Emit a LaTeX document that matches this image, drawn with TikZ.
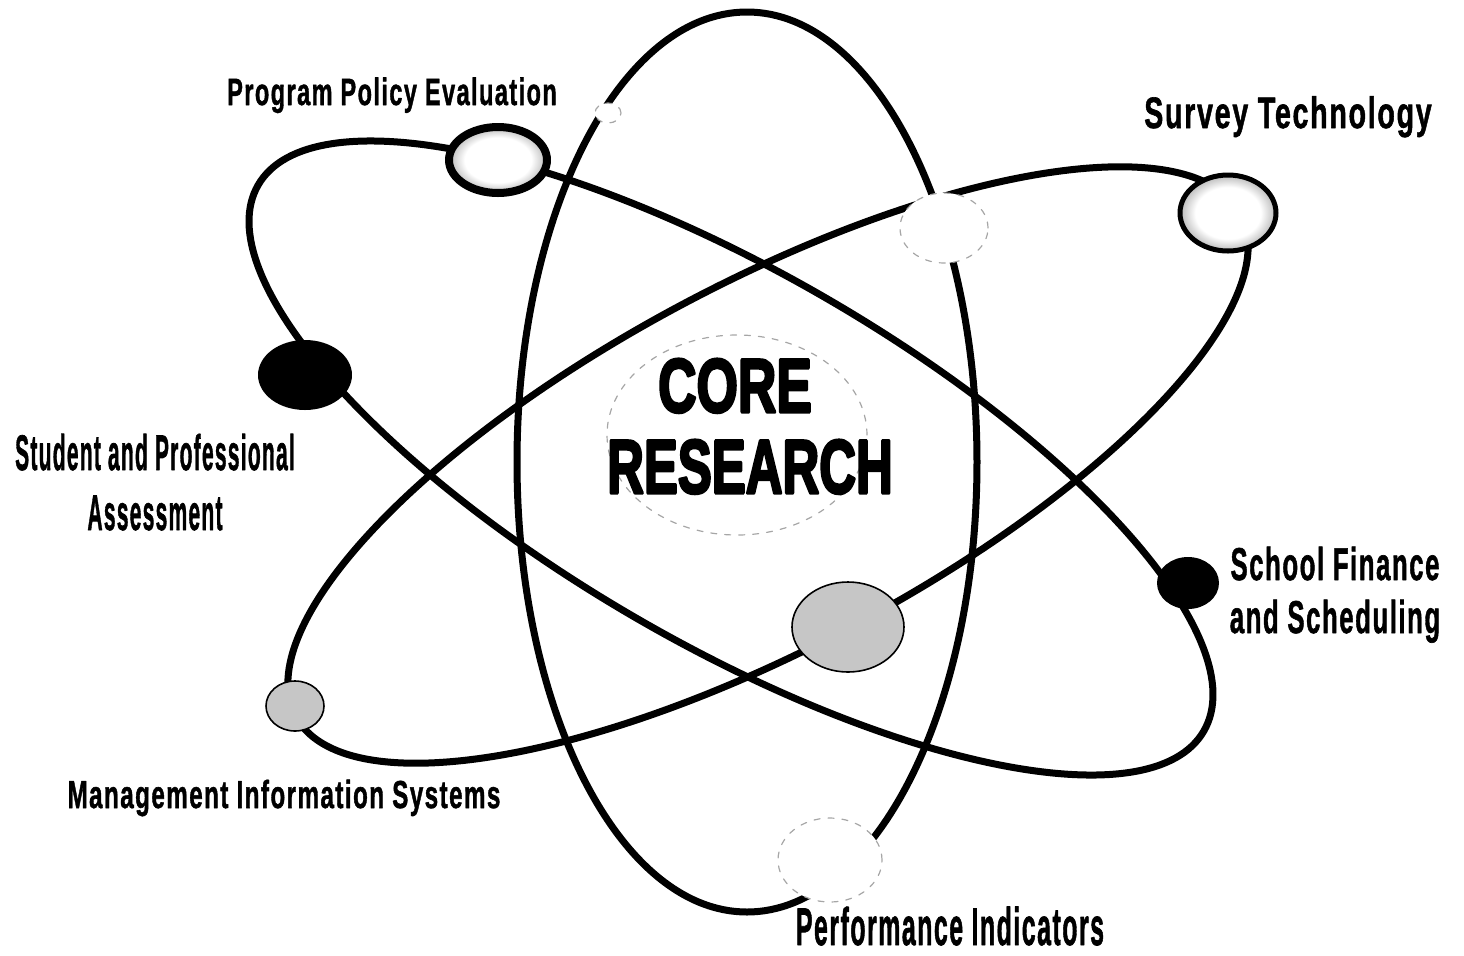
\documentclass[tikz,border=0pt]{standalone}
\usepackage{fontspec}
\usepackage{graphicx}
\usetikzlibrary{shapes.geometric}
\newfontfamily\labelfont{Liberation Sans Bold}[LetterSpace=6, FakeBold=1.5]
\newfontfamily\corefont{Liberation Sans Bold}[FakeBold=4]
\newcommand{\squeeze}[2]{\scalebox{#1}[1]{#2}}
\pgfdeclareradialshading{planetglow}{\pgfpoint{0bp}{0bp}}{color(0bp)=(white); color(17bp)=(white); color(25bp)=(gray!55); color(50bp)=(gray!55)}
\tikzset{
  orbit/.style={line width=3.5pt},
  ring/.style={ellipse, draw, line width=4pt, shading=planetglow},
  solidplanet/.style={ellipse, draw, fill=black, line width=1pt},
  greyplanet/.style={ellipse, draw, fill=gray!45, line width=0.8pt},
  ghost/.style={ellipse, draw=gray!70, fill=white, line width=0.6pt, dash pattern=on 3pt off 4pt},
  lbl/.style={anchor=base, inner sep=0pt}
}

\begin{document}
\begin{tikzpicture}[line cap=round,line join=round,x=0.5pt,y=-0.5pt]
\useasboundingbox (0,0) rectangle (1464,955);

\draw[orbit] (747,462) ellipse [x radius=230, y radius=450];
\draw[orbit, rotate around={-30:(731,458)}] (731,458) ellipse [x radius=546, y radius=186];
\draw[orbit, rotate around={28:(768,465)}] (768,465) ellipse [x radius=535, y radius=182];

\node[ghost, minimum width=130pt, minimum height=100pt] (nucleus) at (737,435) {};
\node[ghost, minimum width=13pt, minimum height=10pt] (topghost) at (608,113) {};
\node[ghost, minimum width=44pt, minimum height=35pt] (rightghost) at (944,228) {};
\node[ghost, minimum width=52pt, minimum height=42pt] (bottomghost) at (830,860) {};

\node[ring, minimum width=49pt, minimum height=33pt] (ppe) at (498,160) {};
\node[ring, line width=2.5pt, minimum width=48pt, minimum height=38pt] (svt) at (1228,213) {};
\node[solidplanet, minimum width=46pt, minimum height=34pt] (spa) at (305,375) {};
\node[solidplanet, minimum width=30pt, minimum height=25pt] (sfs) at (1188,583) {};
\node[greyplanet, minimum width=29pt, minimum height=25pt] (mis) at (295,706) {};
\node[greyplanet, minimum width=56pt, minimum height=45pt] (pin) at (848,627) {};

\node[lbl, font=\corefont\fontsize{38}{40}\selectfont] (core) at (735,412) {\squeeze{0.70}{CORE}};
\node[lbl, font=\corefont\fontsize{38}{40}\selectfont] (research) at (750,493) {\squeeze{0.67}{RESEARCH}};

\node[lbl, font=\labelfont\fontsize{19}{22}\selectfont] (ppelabel) at (392,105) {\squeeze{0.62}{Program Policy Evaluation}};
\node[lbl, font=\labelfont\fontsize{22}{26}\selectfont] (svtlabel) at (1288,128) {\squeeze{0.65}{Survey Technology}};
\node[lbl, font=\labelfont\fontsize{25}{30}\selectfont, align=center] (spalabel) at (155,530) {\squeeze{0.42}{Student and Professional}\\\squeeze{0.42}{Assessment}};
\node[lbl, font=\labelfont\fontsize{23}{26.5}\selectfont, align=center] (sfslabel) at (1335,633) {\squeeze{0.56}{School Finance}\\\squeeze{0.56}{and Scheduling}};
\node[lbl, font=\labelfont\fontsize{19.5}{22}\selectfont] (mislabel) at (284,808) {\squeeze{0.62}{Management Information Systems}};
\node[lbl, font=\labelfont\fontsize{26.5}{30}\selectfont] (pinlabel) at (950,945) {\squeeze{0.47}{Performance Indicators}};

\end{tikzpicture}
\end{document}
